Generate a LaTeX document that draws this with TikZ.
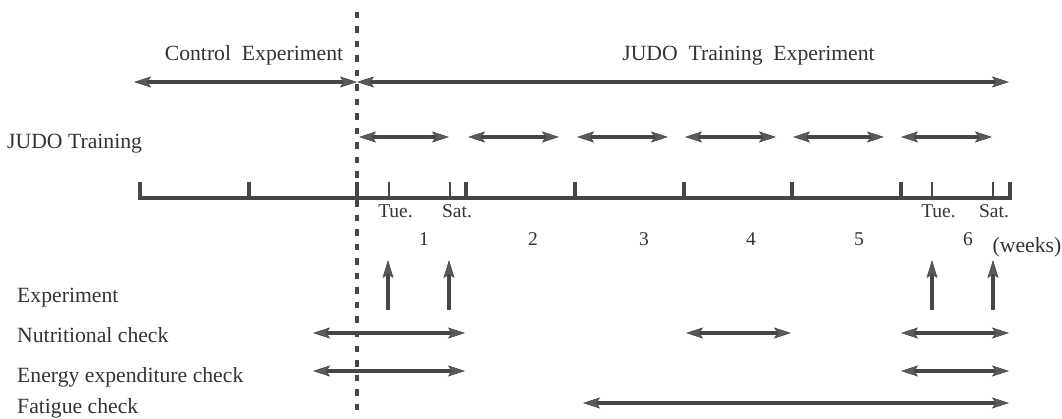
\documentclass[tikz,border=0pt]{standalone}
\usepackage{fontspec}
\setmainfont{Liberation Serif}
\usetikzlibrary{arrows.meta}
\definecolor{ink}{HTML}{464646}
\definecolor{headc}{HTML}{5A5A5A}
\definecolor{txt}{HTML}{333333}
\tikzset{
  tip/.tip={Stealth[length=17pt,width=11pt,inset=3.5pt,line width=0.6pt,fill=headc]},
  span/.style={line width=3.3pt, draw=ink, {tip}-{tip}},
  uparrow/.style={line width=3.6pt, draw=ink, -{Stealth[length=18pt,width=11pt,inset=3.5pt,line width=0.6pt,fill=headc]}},
  big/.style={font=\fontsize{21.7}{26}\selectfont, text=txt, inner sep=0pt},
  small/.style={font=\fontsize{19.5}{22}\selectfont, text=txt, inner sep=0pt, anchor=base},
  num/.style={font=\fontsize{19.5}{22}\selectfont, text=txt, inner sep=0pt, anchor=base},
  bigtick/.style={line width=3.4pt, draw=ink},
  smalltick/.style={line width=1.8pt, draw=ink},
}
\begin{document}
\begin{tikzpicture}[x=1pt,y=-1pt]
\useasboundingbox (0,0) rectangle (1062,419);
% headings
\node[big,anchor=base] (ctl) at (254,61) {Control\ \ Experiment};
\node[big,anchor=base] (jte) at (748.5,61) {JUDO\ \ Training\ \ Experiment};
% row labels
\node[big,anchor=base west] (jt) at (7,148.5) {JUDO Training};
\node[big,anchor=base west] (ex) at (17,303) {Experiment};
\node[big,anchor=base west] (nu) at (17,342.5) {Nutritional check};
\node[big,anchor=base west] (en) at (17,382) {Energy expenditure check};
\node[big,anchor=base west] (fa) at (17,413.5) {Fatigue check};
% dashed separator
\draw[ink, line width=3.6pt, dash pattern=on 6.5pt off 8pt] (357,12) -- (357,413);
% top spans
\draw[span] (134,82) -- (357,82);
\draw[span] (357,82) -- (1009,82);
% JUDO training weekly spans
\foreach \a/\b in {359/449,468/559,577/668,685/776,793/884,901/992}
  \draw[span] (\a,137) -- (\b,137);
% axis
\draw[line width=3.4pt, draw=ink] (138.3,198) -- (1011.7,198);
\foreach \x in {140,249,357,466,575,684,792,901,1010}
  \draw[bigtick] (\x,182) -- (\x,198);
\foreach \x in {389,450,932,993}
  \draw[smalltick] (\x,182) -- (\x,198);
% day labels
\node[small] (tue1) at (395.5,218) {Tue.};
\node[small] (sat1) at (457,218) {Sat.};
\node[small] (tue6) at (938.5,218) {Tue.};
\node[small] (sat6) at (994,218) {Sat.};
% week numbers
\foreach \x/\n in {424/1,533/2,644/3,751/4,859/5,968/6}
  \node[num] (w\n) at (\x,246) {\n};
\node[big,anchor=base] (wk) at (1027,253) {(weeks)};
% experiment arrows
\foreach \x in {388,449,932,993}
  \draw[uparrow] (\x,310) -- (\x,260);
% nutritional
\draw[span] (313,333) -- (465,333);
\draw[span] (686,333) -- (791,333);
\draw[span] (901,333) -- (1009,333);
% energy
\draw[span] (313,371) -- (465,371);
\draw[span] (901,371) -- (1009,371);
% fatigue
\draw[span] (583,403) -- (1009,403);
\end{tikzpicture}
\end{document}
